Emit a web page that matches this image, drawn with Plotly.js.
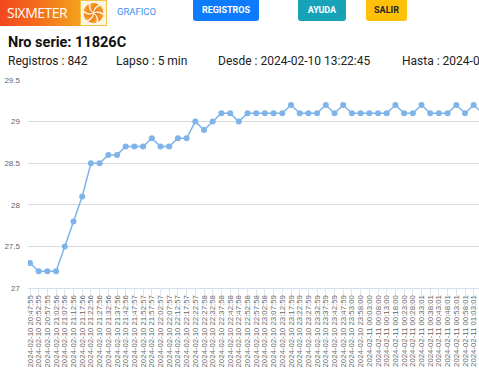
<!DOCTYPE html>
<html>
<head>
<meta charset="utf-8">
<script src="https://cdn.plot.ly/plotly-3.0.1.min.js"></script>
<style>
  html, body { margin:0; padding:0; width:479px; height:376px; overflow:hidden; background:#fff; }
  body { position:relative; font-family: Roboto, "Liberation Sans", Arial, sans-serif; }
  #chart { position:absolute; left:0; top:0; width:479px; height:376px; z-index:1; }
  .hdr { position:absolute; z-index:2; white-space:nowrap; }
  #logo { left:0; top:0; width:80px; height:26px; background:linear-gradient(90deg,#f2461e 0%,#f36b1c 45%,#f5a21c 100%); color:#fff; font-size:14px; line-height:26px; font-family:"Open Sans", sans-serif; font-weight:400; }
  #logo span { position:absolute; left:7px; top:0; letter-spacing:-0.5px; }
  #icon { left:80px; top:0; width:25px; height:24px; border:1px solid #f3c34b; background:#fff6e0; }
  #graf { left:117px; top:6px; font-size:9.5px; color:#3b8ff0; }
  .btn { top:0; height:21px; line-height:21px; color:#fff; font-weight:bold; font-size:9px; text-align:center; border-radius:0 0 3px 3px; }
  #reg { left:193px; width:66px; background:#0d7bfb; }
  #ayu { left:298px; width:48px; background:#17a2b8; }
  #sal { left:366px; width:41px; background:#ffc107; color:#212529; }
  #title { left:8px; top:34px; font-size:14.5px; font-weight:bold; color:#111; }
  .info { top:54px; font-size:12px; color:#222; }
</style>
</head>
<body>
<div id="logo" class="hdr"><span>SIXMETER</span></div>
<div id="icon" class="hdr">
  <svg width="25" height="24" viewBox="-12.5 -12 25 24">
    <defs>
      <linearGradient id="g" x1="0" y1="0" x2="1" y2="1">
        <stop offset="0" stop-color="#f7b520"/>
        <stop offset="1" stop-color="#ee4a1c"/>
      </linearGradient>
    </defs>
    <g fill="url(#g)" stroke="#fff" stroke-width="0.6">
      <path d="M0,0 Q-5,-4 -3,-10.5 Q2,-11 6,-8.5 Q0,-6 0,0Z"/>
      <path d="M0,0 Q-5,-4 -3,-10.5 Q2,-11 6,-8.5 Q0,-6 0,0Z" transform="rotate(60)"/>
      <path d="M0,0 Q-5,-4 -3,-10.5 Q2,-11 6,-8.5 Q0,-6 0,0Z" transform="rotate(120)"/>
      <path d="M0,0 Q-5,-4 -3,-10.5 Q2,-11 6,-8.5 Q0,-6 0,0Z" transform="rotate(180)"/>
      <path d="M0,0 Q-5,-4 -3,-10.5 Q2,-11 6,-8.5 Q0,-6 0,0Z" transform="rotate(240)"/>
      <path d="M0,0 Q-5,-4 -3,-10.5 Q2,-11 6,-8.5 Q0,-6 0,0Z" transform="rotate(300)"/>
    </g>
  </svg>
</div>
<div id="graf" class="hdr">GRAFICO</div>
<div id="reg" class="hdr btn">REGISTROS</div>
<div id="ayu" class="hdr btn">AYUDA</div>
<div id="sal" class="hdr btn">SALIR</div>
<div id="title" class="hdr">Nro serie: 11826C</div>
<div class="hdr info" style="left:8px">Registros : 842</div>
<div class="hdr info" style="left:116px">Lapso : 5 min</div>
<div class="hdr info" style="left:218px">Desde : 2024-02-10 13:22:45</div>
<div class="hdr info" style="left:402px">Hasta : 2024-02</div>
<div id="chart"></div>
<script>
const fechas = [
  "2024-02-10 20:47:55","2024-02-10 20:52:55","2024-02-10 20:57:55","2024-02-10 21:02:56",
  "2024-02-10 21:07:56","2024-02-10 21:12:56","2024-02-10 21:17:56","2024-02-10 21:22:56",
  "2024-02-10 21:27:56","2024-02-10 21:32:56","2024-02-10 21:37:56","2024-02-10 21:42:56",
  "2024-02-10 21:47:57","2024-02-10 21:52:57","2024-02-10 21:57:57","2024-02-10 22:02:57",
  "2024-02-10 22:07:57","2024-02-10 22:12:57","2024-02-10 22:17:57","2024-02-10 22:22:57",
  "2024-02-10 22:27:58","2024-02-10 22:32:58","2024-02-10 22:37:58","2024-02-10 22:42:58",
  "2024-02-10 22:47:58","2024-02-10 22:52:58","2024-02-10 22:57:58","2024-02-10 23:02:58",
  "2024-02-10 23:07:59","2024-02-10 23:12:59","2024-02-10 23:17:59","2024-02-10 23:22:59",
  "2024-02-10 23:27:59","2024-02-10 23:32:59","2024-02-10 23:37:59","2024-02-10 23:42:59",
  "2024-02-10 23:47:59","2024-02-10 23:53:00","2024-02-10 23:58:00","2024-02-11 00:03:00",
  "2024-02-11 00:08:00","2024-02-11 00:13:00","2024-02-11 00:18:00","2024-02-11 00:23:00",
  "2024-02-11 00:28:00","2024-02-11 00:33:01","2024-02-11 00:38:01","2024-02-11 00:43:01",
  "2024-02-11 00:48:01","2024-02-11 00:53:01","2024-02-11 00:58:01","2024-02-11 01:03:01",
  "2024-02-11 01:08:01"
];
const temperatura = [
  27.3,27.2,27.2,27.2,27.5,27.8,28.1,28.5,28.5,28.6,28.6,28.7,28.7,28.7,28.8,28.7,
  28.7,28.8,28.8,29.0,28.9,29.0,29.1,29.1,29.0,29.1,29.1,29.1,29.1,29.1,29.2,29.1,
  29.1,29.1,29.2,29.1,29.2,29.1,29.1,29.1,29.1,29.1,29.2,29.1,29.1,29.2,29.1,29.1,
  29.1,29.2,29.1,29.2,29.1
];
const yTicks = [27, 27.5, 28, 28.5, 29, 29.5];

const trace = {
  x: fechas, y: temperatura, type: 'scatter', mode: 'lines+markers',
  line: {color: '#7fb4ea', width: 1.5},
  marker: {color: '#7fb4ea', size: 6},
  hoverinfo: 'none'
};
const pxPerCat = 8.7;
const plotW = 479 - 28;
const layout = {
  width: 479, height: 376,
  margin: {l: 28, r: 0, t: 80, b: 88, pad: 0},
  paper_bgcolor: 'rgba(0,0,0,0)', plot_bgcolor: '#fff',
  showlegend: false,
  font: {family: '"Liberation Sans", Arial, sans-serif', size: 8, color: '#666'},
  xaxis: {
    type: 'category', range: [-0.23, -0.23 + plotW / pxPerCat],
    tickmode: 'linear', tick0: 0, dtick: 1, tickangle: -90,
    showgrid: false, zeroline: false, showline: true, linecolor: '#d3dfeb', linewidth: 1,
    ticks: 'outside', ticklen: 7, tickcolor: '#dde6ef', tickwidth: 1,
    ticklabelstandoff: -4,
    tickfont: {size: 7.8, color: '#666'}
  },
  yaxis: {
    range: [27, 29.5], tickmode: 'array', tickvals: yTicks,
    showgrid: true, gridcolor: '#d9d9d9', gridwidth: 1, zeroline: false, showline: false,
    ticks: '', ticklabelstandoff: 7,
    tickfont: {size: 8, color: '#666'}
  }
};
Plotly.newPlot('chart', [trace], layout, {displayModeBar: false, staticPlot: true});
</script>
</body>
</html>
